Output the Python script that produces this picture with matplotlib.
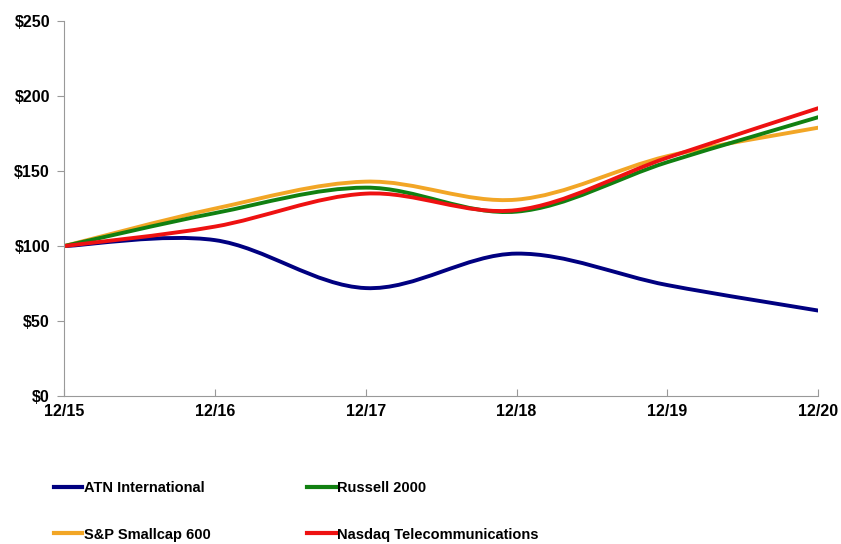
import matplotlib.pyplot as plt
import numpy as np
from matplotlib.path import Path
from matplotlib.patches import PathPatch
from matplotlib.lines import Line2D

plt.rcParams['font.family'] = ['Liberation Sans', 'DejaVu Sans']
plt.rcParams['font.weight'] = 'bold'

periods = ['12/15', '12/16', '12/17', '12/18', '12/19', '12/20']
atn = [100, 104, 72, 95, 74, 57]
russell = [100, 122, 139, 123, 156, 186]
sp600 = [100, 125, 143, 131, 160, 179]
nasdaq = [100, 113, 135, 124, 159, 192]

names = ['ATN International', 'Russell 2000', 'S&P Smallcap 600', 'Nasdaq Telecommunications']
colors = ['#000080', '#118011', '#f2a626', '#ee1111']


def smooth_path(xs, ys):
    # Excel-style smoothed line: cubic Bezier through the points
    pts = np.column_stack([xs, ys]).astype(float)
    n = len(pts)
    verts = [pts[0]]
    codes = [Path.MOVETO]
    for i in range(n - 1):
        p0 = pts[max(i - 1, 0)]
        p1 = pts[i]
        p2 = pts[i + 1]
        p3 = pts[min(i + 2, n - 1)]
        c1 = p1 + (p2 - p0) / 6
        c2 = p2 - (p3 - p1) / 6
        verts += [c1, c2, p2]
        codes += [Path.CURVE4] * 3
    return Path(verts, codes)


fig = plt.figure(figsize=(8.41, 5.44), dpi=100)
ax = fig.add_axes([0.076, 0.272, 0.897, 0.689])

x = np.arange(len(periods))
order = [atn, sp600, russell, nasdaq]
order_c = [colors[0], colors[2], colors[1], colors[3]]
for ys, c in zip(order, order_c):
    ax.add_patch(PathPatch(smooth_path(x, ys), facecolor='none', edgecolor=c, lw=2.8,
                           capstyle='round'))

ax.set_xlim(0, len(periods) - 1)
ax.set_ylim(0, 250)
ax.set_xticks(x)
ax.set_xticklabels(periods)
ax.set_yticks(np.arange(0, 251, 50))
ax.set_yticklabels(['$%d' % v for v in range(0, 251, 50)])

for s in ['top', 'right']:
    ax.spines[s].set_visible(False)
for s in ['left', 'bottom']:
    ax.spines[s].set_color('#999999')
ax.tick_params(axis='x', direction='in', length=5, color='#999999', labelsize=11.5, pad=6)
ax.tick_params(axis='y', direction='out', length=5, color='#999999', labelsize=11.5, pad=5)
for lab in ax.get_xticklabels() + ax.get_yticklabels():
    lab.set_fontweight('bold')

handles = [Line2D([], [], color=c, lw=3) for c in colors]
# column-major fill: ATN / S&P in column 1, Russell / Nasdaq in column 2
leg_order = [0, 2, 1, 3]
fig.legend([handles[i] for i in leg_order], [names[i] for i in leg_order],
           loc='upper left', bbox_to_anchor=(0.064, 0.115), ncol=2,
           frameon=False, handlelength=1.95, handletextpad=0.1,
           columnspacing=6.65, labelspacing=2.2, borderpad=0, borderaxespad=0,
           prop={'weight': 'bold', 'size': 10.5})

fig.savefig('out.png', dpi=100)
